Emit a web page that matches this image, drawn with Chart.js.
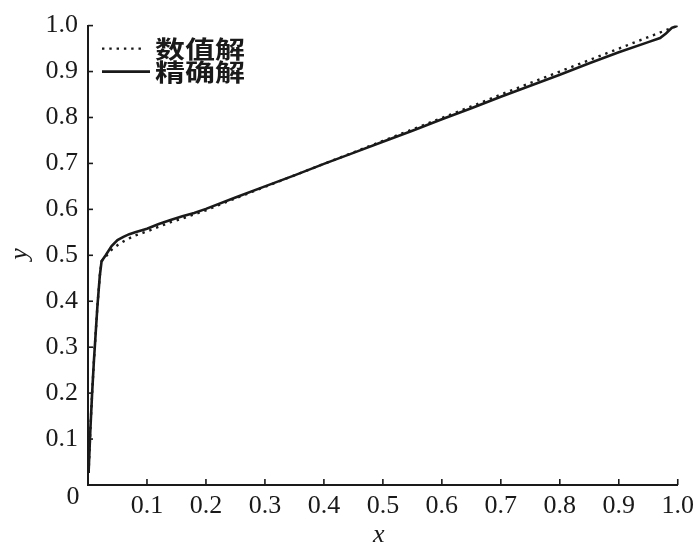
<!DOCTYPE html>
<html>
<head>
<meta charset="utf-8">
<script src="https://cdn.jsdelivr.net/npm/chart.js@4/dist/chart.umd.min.js"></script>
<style>
  html, body { margin: 0; padding: 0; background: #ffffff; }
  #wrap { width: 700px; height: 547px; }
</style>
</head>
<body>
<div id="wrap"><canvas id="c" width="700" height="547"></canvas></div>
<script>
// ---- data ----
const seriesNames = ['数值解', '精确解'];
const axisTitleX = 'x';
const axisTitleY = 'y';
const originLabel = '0';
const xTickLabels = ['', '0.1', '0.2', '0.3', '0.4', '0.5', '0.6', '0.7', '0.8', '0.9', '1.0'];
const yTickLabels = ['', '0.1', '0.2', '0.3', '0.4', '0.5', '0.6', '0.7', '0.8', '0.9', '1.0'];

// numerical solution (dotted)
const numX = [0.001, 0.004, 0.007, 0.010, 0.013, 0.016, 0.020, 0.023, 0.030, 0.040, 0.050, 0.060, 0.070, 0.080, 0.100, 0.120, 0.140, 0.160, 0.180, 0.200, 0.250, 0.300, 0.350, 0.400, 0.450, 0.500, 0.550, 0.600, 0.650, 0.700, 0.750, 0.800, 0.850, 0.900, 0.950, 1.000];
const numY = [0.026, 0.120, 0.200, 0.270, 0.330, 0.390, 0.455, 0.487, 0.497, 0.512, 0.522, 0.530, 0.537, 0.543, 0.552, 0.562, 0.572, 0.580, 0.589, 0.598, 0.624, 0.649, 0.674, 0.699, 0.724, 0.749, 0.774, 0.799, 0.824, 0.850, 0.875, 0.900, 0.925, 0.950, 0.975, 1.000];

// exact solution (solid)
const exX = [0.001, 0.004, 0.007, 0.010, 0.013, 0.016, 0.020, 0.023, 0.030, 0.040, 0.050, 0.060, 0.070, 0.080, 0.100, 0.120, 0.140, 0.160, 0.180, 0.200, 0.250, 0.300, 0.350, 0.400, 0.450, 0.500, 0.550, 0.600, 0.650, 0.700, 0.750, 0.800, 0.850, 0.900, 0.950, 0.970, 0.980, 0.990, 1.000];
const exY = [0.026, 0.120, 0.200, 0.270, 0.330, 0.390, 0.455, 0.487, 0.500, 0.520, 0.533, 0.540, 0.546, 0.550, 0.558, 0.568, 0.577, 0.585, 0.592, 0.601, 0.626, 0.650, 0.674, 0.699, 0.723, 0.747, 0.771, 0.796, 0.820, 0.845, 0.869, 0.893, 0.918, 0.942, 0.964, 0.973, 0.983, 0.995, 1.000];

const toPts = (xs, ys) => xs.map((x, i) => ({ x: x, y: ys[i] }));

const INK = '#1a1a1a';
const SERIF = '"Liberation Serif", "Times New Roman", serif';
const CJK = '"Noto Sans CJK SC", sans-serif';

const decor = {
  id: 'decor',
  afterDraw(chart) {
    const ctx = chart.ctx;
    const xs = chart.scales.x, ys = chart.scales.y;
    const area = chart.chartArea;
    ctx.save();
    ctx.strokeStyle = INK;
    ctx.lineWidth = 1.6;
    // inward tick marks
    xs.ticks.forEach(t => {
      if (t.value === 0) return;
      const px = xs.getPixelForValue(t.value);
      ctx.beginPath(); ctx.moveTo(px, area.bottom); ctx.lineTo(px, area.bottom - 6); ctx.stroke();
    });
    ys.ticks.forEach(t => {
      if (t.value === 0) return;
      const py = ys.getPixelForValue(t.value);
      ctx.beginPath(); ctx.moveTo(area.left, py); ctx.lineTo(area.left + 5, py); ctx.stroke();
    });
    // origin label
    ctx.fillStyle = INK;
    ctx.font = '26px ' + SERIF;
    ctx.textAlign = 'center';
    ctx.textBaseline = 'middle';
    ctx.fillText(originLabel, area.left - 15, area.bottom + 12);
    // axis titles
    ctx.font = 'italic 26px ' + SERIF;
    ctx.fillText(axisTitleX, (area.left + area.right) / 2 - 4, area.bottom + 50);
    ctx.save();
    ctx.translate(20, 254);
    ctx.rotate(-Math.PI / 2);
    ctx.fillText(axisTitleY, 0, 0);
    ctx.restore();
    // legend
    const ds = chart.data.datasets;
    const rows = [{ y: area.top + 23, x0: 102, x1: 145 }, { y: area.top + 46, x0: 102, x1: 150 }];
    ds.forEach((d, i) => {
      const r = rows[i];
      ctx.save();
      ctx.strokeStyle = d.borderColor;
      ctx.lineWidth = d.borderWidth;
      ctx.setLineDash(d.borderDash || []);
      ctx.beginPath(); ctx.moveTo(r.x0, r.y); ctx.lineTo(r.x1, r.y); ctx.stroke();
      ctx.restore();
      ctx.save();
      ctx.translate(155, r.y);
      ctx.scale(1, 0.8);
      ctx.font = 'bold 30px ' + CJK;
      ctx.textAlign = 'left';
      ctx.textBaseline = 'middle';
      ctx.fillText(d.label, 0, 0);
      ctx.restore();
    });
    ctx.restore();
  }
};

new Chart(document.getElementById('c'), {
  type: 'line',
  data: {
    datasets: [
      {
        label: seriesNames[0],
        data: toPts(numX, numY),
        borderColor: INK,
        borderWidth: 2.4,
        borderDash: [2.4, 4.9],
        pointRadius: 0,
        tension: 0,
        fill: false
      },
      {
        label: seriesNames[1],
        data: toPts(exX, exY),
        borderColor: INK,
        borderWidth: 2.6,
        pointRadius: 0,
        tension: 0,
        fill: false
      }
    ]
  },
  options: {
    responsive: false,
    animation: false,
    layout: { padding: { top: 16, right: 17, left: 0, bottom: 0 } },
    plugins: { legend: { display: false }, tooltip: { enabled: false } },
    scales: {
      x: {
        type: 'linear',
        min: 0, max: 1,
        afterFit(s) { s.height = 62; },
        grid: { display: true, drawOnChartArea: false, drawTicks: false },
        border: { display: true, color: INK, width: 2 },
        ticks: {
          stepSize: 0.1,
          autoSkip: false,
          maxRotation: 0,
          padding: 6,
          color: INK,
          font: { family: SERIF, size: 26 },
          callback: (v, i) => xTickLabels[i]
        }
      },
      y: {
        type: 'linear',
        min: 0, max: 1,
        afterFit(s) { s.width = 88; },
        grid: { display: true, drawOnChartArea: false, drawTicks: false },
        border: { display: true, color: INK, width: 2 },
        ticks: {
          stepSize: 0.1,
          autoSkip: false,
          padding: 10,
          color: INK,
          font: { family: SERIF, size: 26 },
          callback: (v, i) => yTickLabels[i]
        }
      }
    }
  },
  plugins: [decor]
});
</script>
</body>
</html>
